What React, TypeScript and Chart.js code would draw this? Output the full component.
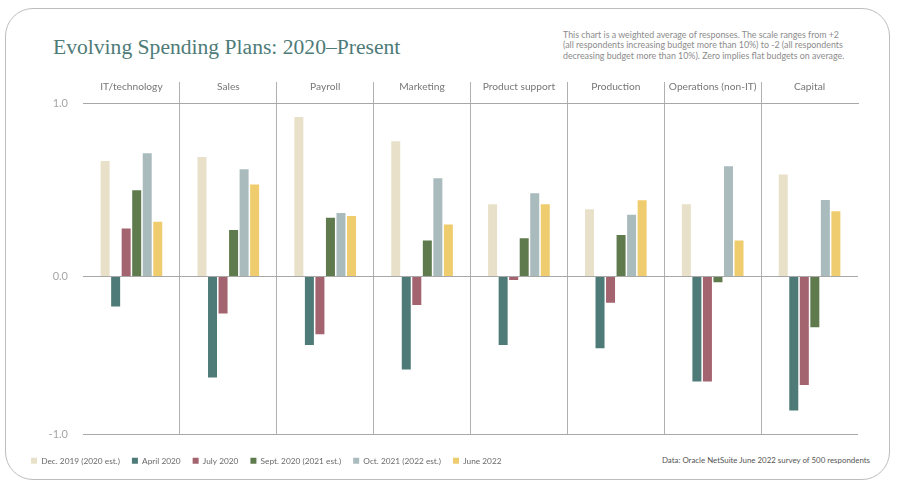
import React, { useEffect, useRef } from 'react';
import { Chart, registerables } from 'chart.js';

Chart.register(...registerables);

const categories = ['IT/technology', 'Sales', 'Payroll', 'Marketing', 'Product support', 'Production', 'Operations (non-IT)', 'Capital'];
const seriesLabels = ['Dec. 2019 (2020 est.)', 'April 2020', 'July 2020', 'Sept. 2020 (2021 est.)', 'Oct. 2021 (2022 est.)', 'June 2022'];
const seriesColors = ['#e8e0c8', '#4e7b78', '#a3636f', '#5f7b4d', '#aabbbe', '#efcc6e'];

const dec2019 = [0.665, 0.688, 0.919, 0.78, 0.416, 0.387, 0.416, 0.588];
const apr2020 = [-0.173, -0.582, -0.395, -0.536, -0.395, -0.414, -0.605, -0.773];
const jul2020 = [0.277, -0.214, -0.333, -0.164, -0.021, -0.152, -0.605, -0.626];
const sep2020 = [0.497, 0.268, 0.339, 0.208, 0.22, 0.239, -0.033, -0.293];
const oct2021 = [0.711, 0.618, 0.366, 0.566, 0.48, 0.356, 0.636, 0.441];
const jun2022 = [0.316, 0.53, 0.349, 0.299, 0.416, 0.439, 0.208, 0.376];

const yTickValues = [-0.913, 0, 1];
const yTickLabels = ['-1.0', '0.0', '1.0'];

const titleText = 'Evolving Spending Plans: 2020\u2013Present';
const noteLines = [
  'This chart is a weighted average of responses. The scale ranges from +2',
  '(all respondents increasing budget more than 10%) to -2 (all respondents',
  'decreasing budget more than 10%). Zero implies flat budgets on average.',
];
const sourceText = 'Data: Oracle NetSuite June 2022 survey of 500 respondents';

const SANS = 'Lato, "Open Sans", sans-serif';

export default function App() {
  const canvasRef = useRef<HTMLCanvasElement | null>(null);

  useEffect(() => {
    const canvas = canvasRef.current;
    if (!canvas) return;
    const seriesValues = [dec2019, apr2020, jul2020, sep2020, oct2021, jun2022];
    const chart = new Chart(canvas, {
      type: 'bar',
      data: {
        labels: categories,
        datasets: seriesValues.map((vals, i) => ({
          label: seriesLabels[i],
          data: vals,
          backgroundColor: seriesColors[i],
          borderWidth: 0,
          categoryPercentage: 0.652,
          barPercentage: 0.855,
        })),
      },
      options: {
        animation: false,
        responsive: false,
        layout: { padding: { left: 19, right: 39, top: 80, bottom: 12 } },
        plugins: {
          tooltip: { enabled: false },
          legend: {
            position: 'bottom',
            align: 'start',
            title: { display: true, text: '', padding: 0, font: { size: 8.2 } },
            labels: {
              boxWidth: 6,
              boxHeight: 6,
              padding: 12,
              color: '#6a6a6a',
              font: { family: SANS, size: 8.3 },
            },
          },
        },
        scales: {
          x: {
            position: 'top',
            grid: {
              offset: true,
              drawTicks: true,
              tickLength: 21,
              lineWidth: 1,
              color: (c: any) => (c.type === 'tick' && c.index > 0 ? '#b0b0b0' : 'rgba(0,0,0,0)'),
            },
            border: { display: true, color: '#a8a8a8', width: 1 },
            ticks: {
              color: '#777777',
              font: { family: SANS, size: 10.2 },
              padding: -10.6,
              maxRotation: 0,
              autoSkip: false,
            },
            afterFit: (s: any) => {
              s.height = 23;
            },
          },
          y: {
            min: yTickValues[0],
            max: yTickValues[yTickValues.length - 1],
            afterBuildTicks: (s: any) => {
              s.ticks = yTickValues.map((v) => ({ value: v }));
            },
            grid: { color: '#a8a8a8', lineWidth: 1, drawTicks: false },
            border: { display: false },
            ticks: {
              color: '#a6a6a6',
              font: { family: SANS, size: 11 },
              padding: 15,
              callback: (_v: any, i: number) => yTickLabels[i],
            },
            afterFit: (s: any) => {
              s.width = 64;
            },
          },
        },
      },
    });
    return () => chart.destroy();
  }, []);

  return (
    <div style={{ position: 'fixed', left: 0, top: 0, width: 897, height: 487, background: '#fff', overflow: 'hidden' }}>
      <div
        style={{
          position: 'absolute',
          left: 5,
          top: 8,
          width: 885,
          height: 472,
          border: '1.5px solid #bdbdbd',
          borderRadius: 28,
          boxSizing: 'border-box',
        }}
      />
      <div
        style={{
          position: 'absolute',
          left: 53,
          top: 34,
          fontFamily: '"Liberation Serif", "DejaVu Serif", serif',
          fontSize: 21.6,
          color: '#4e7b78',
          whiteSpace: 'nowrap',
          lineHeight: '26px',
        }}
      >
        {titleText}
      </div>
      <div
        style={{
          position: 'absolute',
          left: 563,
          top: 30,
          fontFamily: SANS,
          fontSize: 8.85,
          color: '#8c8c8c',
          lineHeight: '10.3px',
          whiteSpace: 'nowrap',
        }}
      >
        {noteLines.map((l, i) => (
          <div key={i}>{l}</div>
        ))}
      </div>
      <div
        style={{
          position: 'absolute',
          right: 27,
          top: 454,
          fontFamily: SANS,
          fontSize: 7.9,
          color: '#555',
          whiteSpace: 'nowrap',
          lineHeight: '12px',
        }}
      >
        {sourceText}
      </div>
      <canvas ref={canvasRef} width={897} height={487} style={{ position: 'absolute', left: 0, top: 0, width: 897, height: 487 }} />
    </div>
  );
}
